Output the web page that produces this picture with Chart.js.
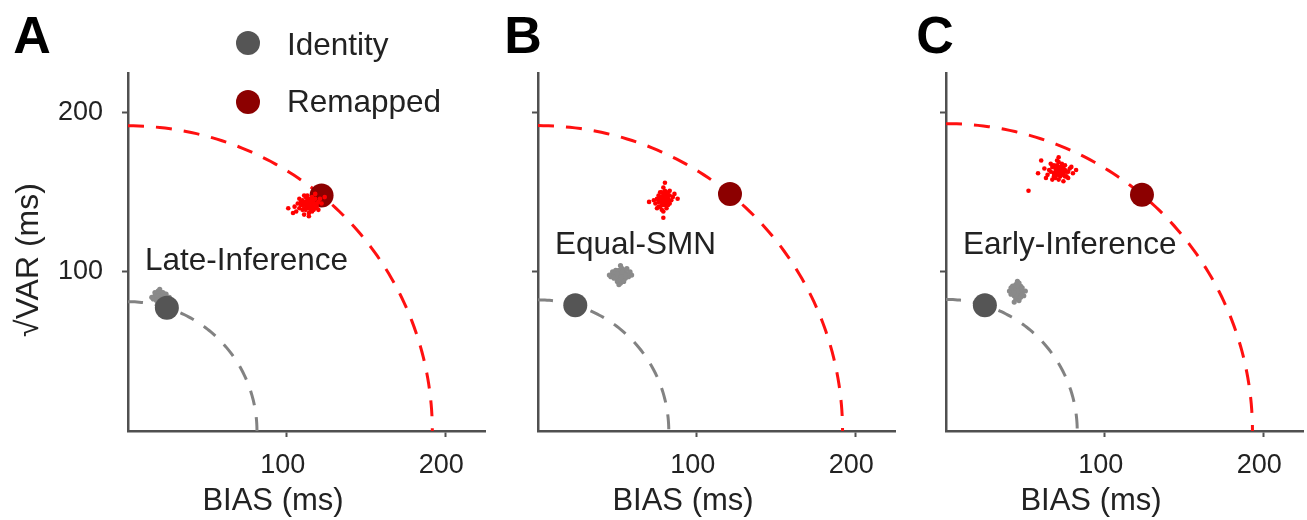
<!DOCTYPE html>
<html>
<head>
<meta charset="utf-8">
<script src="https://cdn.jsdelivr.net/npm/chart.js@4/dist/chart.umd.min.js"></script>
<style>
  html, body { margin: 0; padding: 0; background: #ffffff; overflow: hidden; }
  #wrap { position: relative; width: 1307px; height: 520px; overflow: hidden; }
  .panel { position: absolute; top: 0; width: 497px; height: 520px; }
</style>
</head>
<body>
<div id="wrap">
  <div class="panel" style="left:0px"><canvas id="panelA" width="497" height="520"></canvas></div>
  <div class="panel" style="left:410px"><canvas id="panelB" width="497" height="520"></canvas></div>
  <div class="panel" style="left:818px"><canvas id="panelC" width="497" height="520"></canvas></div>
</div>
<script>
// ---- values ----
const panelLetters = ['A', 'B', 'C'];
const modelNames = ['Late-Inference', 'Equal-SMN', 'Early-Inference'];
const xTickValues = [100, 200];
const yTickValues = [100, 200];
const axisMax = 225;

// mean performance of each mapping (BIAS, sqrt VAR) per panel
const identityBias = [24.5, 23.5, 24.5];
const identityVar = [77.5, 79, 79];
const remappedBias = [122, 121, 123.5];
const remappedVar = [148, 149, 148.5];

// model simulation runs, remapped condition
const remappedRunsA = [[108,140],[111,143],[113,141],[115,144],[117,142],[112,139],[110,145],[116,140],[118,146],[114,143],[109,142],[113,146],[116,138],[119,143],[111,140],[115,141],[112,144],[117,145],[110,139],[114,137],[120,144],[107,143],[113,148],[118,140],[115,146],[111,136],[116,143],[112,142],[119,141],[105,141],[121,146],[114,140],[108,146],[117,139],[113,144],[110,142],[116,147],[122,143],[104,137],[101,140],[106,138],[114,135],[118,149],[120,139],[112,147],[115,139],[109,144],[117,143],[111,148],[124,147]];
const remappedRunsB = [[76,144],[78,147],[80,143],[82,146],[79,149],[77,141],[81,145],[83,148],[75,146],[79,142],[80,151],[78,144],[82,142],[76,148],[84,145],[79,146],[77,150],[81,140],[80,147],[78,139],[83,143],[74,143],[79,153],[81,149],[77,145],[85,147],[80,144],[76,141],[82,150],[78,146],[79,138],[73,145],[86,149],[80,142],[81,147],[77,147],[79,144],[83,151],[75,140],[78,150],[80,156],[88,146],[70,144],[79,134],[82,145],[76,145],[81,143],[78,142]];
const remappedRunsC = [[68,162],[71,165],[73,161],[75,164],[70,167],[66,163],[72,160],[74,166],[69,159],[77,163],[71,162],[67,166],[73,168],[76,160],[70,164],[64,161],[72,163],[78,165],[69,165],[74,162],[65,164],[71,158],[75,167],[68,160],[73,164],[80,162],[70,161],[66,168],[72,166],[77,159],[69,163],[62,165],[74,157],[71,169],[79,166],[67,158],[73,163],[70,170],[76,163],[63,159],[82,164],[68,167],[72,161],[75,160],[58,162],[71,172],[52,151],[60,170]];

// model simulation runs, identity condition
const identityRunsA = [[19,84],[21,82],[22,85],[18,83],[20,86],[23,83],[21,87],[19,81],[24,84],[17,85],[20,83],[22,81],[18,86],[21,84],[23,86],[20,80],[16,83],[25,82],[19,88],[22,84],[20,85],[18,82],[24,86],[21,80],[17,87],[23,81],[20,89],[26,84],[19,85],[22,87],[15,84],[21,83]];
const identityRunsB = [[50,98],[52,100],[54,97],[48,99],[53,95],[56,99],[51,96],[55,101],[49,97],[52,98],[57,97],[47,100],[53,102],[50,94],[54,99],[58,100],[51,101],[46,97],[55,96],[52,93],[49,101],[53,97],[56,102],[50,99],[54,94],[45,98],[59,98],[52,104],[51,92],[48,96],[55,98],[53,100]];
const identityRunsC = [[44,87],[46,89],[43,85],[47,86],[45,90],[42,88],[48,88],[45,84],[44,92],[46,86],[41,86],[47,91],[43,89],[45,87],[49,85],[44,83],[46,93],[40,88],[48,90],[43,81],[47,84],[45,88],[42,91],[50,88],[44,86],[46,82],[41,90],[48,86],[45,94],[43,87]];

const remappedRuns = [remappedRunsA, remappedRunsB, remappedRunsC];
const identityRuns = [identityRunsA, identityRunsB, identityRunsC];

// ---- styling ----
const FONT = "'Liberation Sans', Arial, Helvetica, sans-serif";
const AXIS_COLOR = '#505050';
const TEXT_COLOR = '#222222';
const IDENTITY_COLOR = '#555555';
const REMAPPED_COLOR = '#8c0000';
const IDENTITY_RUN_COLOR = '#8a8a8a';
const REMAPPED_RUN_COLOR = '#ff0000';

// quarter circle of constant error (BIAS^2 + VAR = r^2) through a mean point
function isoErrorArc(bias, sd) {
  const r = Math.hypot(bias, sd);
  const pts = [];
  const n = 90;
  for (let i = 0; i <= n; i++) {
    const a = (Math.PI / 2) * (1 - i / n);
    pts.push({ x: r * Math.cos(a), y: r * Math.sin(a) });
  }
  return pts;
}

const toXY = arr => arr.map(p => ({ x: p[0], y: p[1] }));

// texts drawn on each panel
const panelText = {
  id: 'panelText',
  afterDraw(chart, args, opts) {
    const ctx = chart.ctx;
    const xs = chart.scales.x, ys = chart.scales.y;
    ctx.save();
    ctx.fillStyle = '#000000';
    ctx.font = `bold 52px ${FONT}`;
    ctx.textAlign = 'center';
    ctx.textBaseline = 'alphabetic';
    ctx.fillText(opts.letter, opts.letterX, 53);

    ctx.fillStyle = TEXT_COLOR;
    ctx.font = `31px ${FONT}`;
    ctx.fillText('BIAS (ms)', 273, 510);

    ctx.textAlign = 'left';
    ctx.font = `31.5px ${FONT}`;
    ctx.fillText(opts.model, xs.getPixelForValue(opts.modelAt[0]), ys.getPixelForValue(opts.modelAt[1]));

    if (opts.showYTitle) {
      ctx.save();
      ctx.translate(38, 260);
      ctx.rotate(-Math.PI / 2);
      ctx.textAlign = 'center';
      ctx.font = `32px ${FONT}`;
      ctx.fillText('\u221AVAR (ms)', 0, 0);
      ctx.restore();
    }

    if (opts.showLegend) {
      const items = [
        { label: 'Identity', color: IDENTITY_COLOR, y: 43, base: 55 },
        { label: 'Remapped', color: REMAPPED_COLOR, y: 102, base: 112 }
      ];
      ctx.font = `31.5px ${FONT}`;
      ctx.textAlign = 'left';
      items.forEach(it => {
        ctx.beginPath();
        ctx.arc(248, it.y, 12, 0, Math.PI * 2);
        ctx.fillStyle = it.color;
        ctx.fill();
        ctx.fillStyle = TEXT_COLOR;
        ctx.fillText(it.label, 287, it.base);
      });
    }
    ctx.restore();
  }
};

function makePanel(i) {
  const canvas = document.getElementById('panel' + panelLetters[i]);
  const showYLabels = i === 0;
  return new Chart(canvas, {
    type: 'scatter',
    data: {
      datasets: [
        {
          label: 'identity contour',
          data: isoErrorArc(identityBias[i], identityVar[i]),
          showLine: true, pointRadius: 0, borderColor: '#828282', borderWidth: 3,
          borderDash: [15, 12], fill: false, order: 6
        },
        {
          label: 'remapped contour',
          data: isoErrorArc(remappedBias[i], remappedVar[i]),
          showLine: true, pointRadius: 0, borderColor: '#ff1010', borderWidth: 3,
          borderDash: [16, 12], fill: false, order: 5
        },
        {
          label: 'identity runs',
          data: toXY(identityRuns[i]),
          pointRadius: 2.6, pointBackgroundColor: IDENTITY_RUN_COLOR, pointBorderWidth: 0, order: 4
        },
        {
          label: 'Identity',
          data: [{ x: identityBias[i], y: identityVar[i] }],
          pointRadius: 12, pointBackgroundColor: IDENTITY_COLOR, pointBorderWidth: 0, order: 3
        },
        {
          label: 'Remapped',
          data: [{ x: remappedBias[i], y: remappedVar[i] }],
          pointRadius: 12, pointBackgroundColor: REMAPPED_COLOR, pointBorderWidth: 0, order: 2
        },
        {
          label: 'remapped runs',
          data: toXY(remappedRuns[i]),
          pointRadius: 2.3, pointBackgroundColor: REMAPPED_RUN_COLOR, pointBorderWidth: 0, order: 1
        }
      ]
    },
    options: {
      responsive: false,
      animation: false,
      devicePixelRatio: 1,
      layout: { padding: { left: 0, right: 4, top: 73, bottom: 0 } },
      plugins: {
        legend: { display: false },
        tooltip: { enabled: false },
        panelText: {
          letter: panelLetters[i],
          letterX: [32, 113, 117][i],
          model: modelNames[i],
          modelAt: [10.7, [101.5, 111, 111][i]],
          showYTitle: i === 0,
          showLegend: i === 0
        }
      },
      scales: {
        x: {
          type: 'linear', min: 0, max: axisMax,
          afterFit(s) { s.height = 89; s.paddingLeft = 0; s.paddingRight = 0; },
          afterBuildTicks(s) { s.ticks = xTickValues.map(v => ({ value: v })); },
          ticks: {
            font: { family: FONT, size: 27 }, color: TEXT_COLOR,
            padding: 12, labelOffset: -4, maxRotation: 0, autoSkip: false,
            callback: v => String(v)
          },
          grid: { drawOnChartArea: false, drawTicks: true, tickLength: 6, tickWidth: 2, tickColor: AXIS_COLOR, color: AXIS_COLOR },
          border: { display: true, color: AXIS_COLOR, width: 2.5 }
        },
        y: {
          type: 'linear', min: 0, max: axisMax,
          afterFit(s) { s.width = 128; s.paddingTop = 0; s.paddingBottom = 0; },
          afterBuildTicks(s) { s.ticks = yTickValues.map(v => ({ value: v })); },
          ticks: {
            font: { family: FONT, size: 27 }, color: TEXT_COLOR,
            padding: 19, autoSkip: false,
            callback: v => (showYLabels ? String(v) : '')
          },
          grid: { drawOnChartArea: false, drawTicks: true, tickLength: 6, tickWidth: 2, tickColor: AXIS_COLOR, color: AXIS_COLOR },
          border: { display: true, color: AXIS_COLOR, width: 2.5 }
        }
      }
    },
    plugins: [panelText]
  });
}

[0, 1, 2].forEach(makePanel);
</script>
</body>
</html>
